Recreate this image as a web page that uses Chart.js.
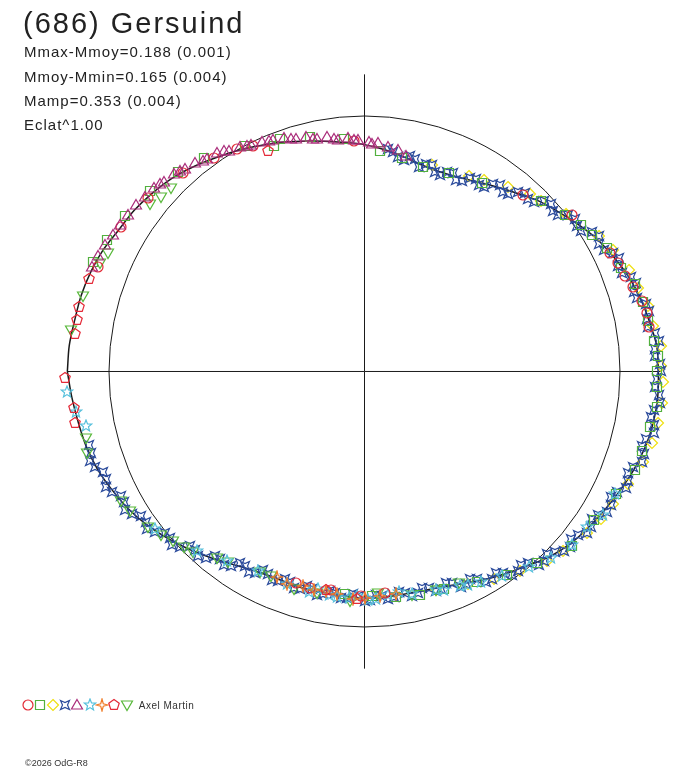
<!DOCTYPE html>
<html>
<head>
<meta charset="utf-8">
<script src="https://cdn.jsdelivr.net/npm/chart.js@4.4.1/dist/chart.umd.min.js"></script>
<style>
  body { margin: 0; background: #fff; width: 688px; height: 768px; overflow: hidden; position: relative;
         font-family: "Liberation Sans", Arial, sans-serif; color: #222; }
  #plot { position: absolute; left: 0; top: 0; }
  .t { position: absolute; white-space: nowrap; }
  #title { left: 23px; top: 9px; font-size: 29px; line-height: 29px; letter-spacing: 2px; }
  .stat { left: 24px; font-size: 15px; line-height: 15px; letter-spacing: 1px; }
  #legend { position: absolute; left: 21px; top: 698px; display: flex; align-items: center; }
  #legend canvas { display: block; margin-right: -1.7px; }
  #observer { font-size: 10px; letter-spacing: 0.5px; margin-left: 7px; color: #333; }
  #copy { left: 25px; top: 759px; font-size: 9px; line-height: 9px; color: #333; }
</style>
</head>
<body>
<canvas id="plot" width="688" height="768"></canvas>
<div class="t" id="title">(686) Gersuind</div>
<div class="t stat" style="top:44px">Mmax-Mmoy=0.188 (0.001)</div>
<div class="t stat" style="top:68.5px">Mmoy-Mmin=0.165 (0.004)</div>
<div class="t stat" style="top:93px">Mamp=0.353 (0.004)</div>
<div class="t stat" style="top:116.5px">Eclat^1.00</div>
<div id="legend"><span id="observer">Axel Martin</span></div>
<div class="t" id="copy">©2026 OdG-R8</div>
<script>
// angles in degrees (0 = right, counter-clockwise), radius in units of the reference circle
const curveAngle = [-180,-175,-170,-165,-160,-155,-150,-145,-140,-135,-130,-125,-120,-115,-110,-105,-100,-95,-90,-85,
  -80,-75,-70,-65,-60,-55,-50,-45,-40,-35,-30,-25,-20,-15,-10,-5,0,5,10,15,20,25,30,35,40,45,50,55,60,65,
  70,75,80,85,90,95,100,105,110,115,120,125,130,135,140,145,150,155,160,165,170,175,180];
const curveRadius = [1.163,1.150,1.138,1.128,1.113,1.092,1.070,1.043,1.012,0.980,0.948,0.918,0.895,0.882,0.880,0.882,0.880,0.882,0.888,0.886,
  0.885,0.888,0.897,0.915,0.940,0.965,0.992,1.025,1.050,1.068,1.085,1.103,1.122,1.138,1.148,1.152,1.150,1.148,1.132,1.117,1.097,1.072,1.045,1.012,0.980,0.950,0.915,0.885,0.860,0.842,
  0.835,0.840,0.855,0.872,0.888,0.900,0.915,0.933,0.955,0.975,0.998,1.020,1.045,1.068,1.085,1.100,1.110,1.128,1.140,1.148,1.152,1.160,1.163];

const redCircleAngle = [158.7,149.4,141.4,132.3,125.3,119.7,116.2,92.7,48,36.9,25.8,23.1,20.2,17.4,14.3,11.6,8.8,-84.6,-91,-98.8,-104,-108];
const redCircleRadius = [1.121,1.109,1.086,1.053,1.022,1.004,0.985,0.905,0.928,1.017,1.068,1.079,1.087,1.102,1.122,1.130,1.128,0.869,0.878,0.867,0.875,0.870];

const greenSquareAngle = [158,153,147,140,133,127,118,112,110,103,95,86,80,74,67,58,44,38,34,31,
  27,22,18,14,10,6,3,0,-3,-7,-11,-16,-20,-26,-33,-40,-48,-55,-62,-70,-76,-82,-88,-95];
const greenSquareRadius = [1.148,1.130,1.118,1.098,1.068,1.045,1.000,0.950,0.968,0.942,0.912,0.865,0.848,0.832,0.845,0.870,0.962,0.998,1.022,1.040,
  1.066,1.082,1.112,1.125,1.128,1.140,1.152,1.145,1.146,1.155,1.140,1.130,1.125,1.095,1.070,1.062,1.010,0.972,0.935,0.905,0.900,0.892,0.880,0.875];

const yellowAngle = [72,62,58,52,47,44,38,30,26,21,17,13,9,5,1,-2,-6,-10,-14,-18,-23,-28,-32,-36,-42,-46,-52,-58,-64,-72];
const yellowRadius = [0.850,0.868,0.885,0.915,0.948,0.962,1.000,1.060,1.082,1.108,1.120,1.140,1.145,1.165,1.162,1.168,1.172,1.166,1.160,1.145,1.122,1.102,1.090,1.075,1.048,1.030,0.990,0.958,0.925,0.900];

const blueAngle = [84,81,78,75,72,69,66,63,60,57,54,51,48,45,42,39,36,33,30,27,24,21,18,15,12,9,6,3,0,-3,
  -6,-9,-12,-15,-18,-21,-24,-27,-30,-33,-36,-39,-42,-45,-48,-51,-54,-57,-60,-63,-66,-69,-72,-75,-78,-81,-84,-87,-90,-93,
  -96,-99,-102,-105,-108,-111,-114,-117,-120,-123,-126,-129,-132,-135,-138,-141,-144,-147,-150,-153,-156,-159,-162,-165,
  82.5,79.5,76.5,73.5,70.5,67.5,64.5,61.5,58.5,55.5,52.5,49.5,46.5,43.5,40.5,37.5,34.5,31.5,28.5,25.5,22.5,19.5,16.5,13.5,10.5,7.5,4.5,1.5,
  -1.5,-4.5,-7.5,-10.5,-13.5,-16.5,-19.5,-22.5,-25.5,-28.5,-31.5,-34.5,-37.5,-40.5,-43.5,-46.5,-49.5,-52.5,-55.5,-58.5,-61.5,-64.5,-67.5,-70.5,
  -73.5,-76.5,-79.5,-82.5,-85.5,-88.5,-91.5,-94.5,-97.5,-100.5,-103.5,-106.5,-109.5,-112.5,-115.5,-118.5,-121.5,-124.5,-127.5,-130.5,-133.5,-136.5,
  -139.5,-142.5,-145.5,-148.5,-151.5,-154.5,-157.5,-160.5,-163.5];
const blueRadius = [0.875,0.850,0.862,0.828,0.850,0.822,0.852,0.838,0.872,0.860,0.902,0.895,0.940,0.938,0.980,0.975,1.018,1.012,1.058,1.050,
  1.090,1.080,1.118,1.105,1.138,1.122,1.158,1.138,1.162,1.140,1.164,1.136,1.158,1.126,1.142,1.106,1.120,1.084,1.098,1.062,
  1.078,1.040,1.052,1.012,1.018,0.974,0.983,0.942,0.953,0.910,0.924,0.887,0.905,0.876,0.898,0.873,0.897,0.876,0.899,0.872,
  0.893,0.868,0.893,0.870,0.893,0.868,0.893,0.874,0.907,0.894,0.937,0.930,0.974,0.968,1.012,1.006,1.050,1.042,1.083,1.071,
  1.108,1.098,1.131,1.116,
  0.868,0.842,0.855,0.845,0.830,0.845,0.832,0.862,0.858,0.890,0.888,0.925,0.930,0.968,0.970,1.004,1.008,1.046,1.044,1.078,1.076,1.108,1.102,1.132,1.124,1.148,1.142,1.156,
  1.145,1.158,1.143,1.154,1.133,1.140,1.116,1.118,1.094,1.097,1.074,1.076,1.052,1.056,1.028,1.022,0.988,0.984,0.955,0.954,0.924,0.922,0.898,0.902,
  0.884,0.893,0.880,0.890,0.881,0.893,0.880,0.888,0.876,0.886,0.876,0.887,0.875,0.886,0.878,0.896,0.892,0.922,0.926,0.958,0.963,0.996,
  1.001,1.034,1.039,1.068,1.070,1.097,1.096,1.120,1.118];

const magentaAngle = [79,81.5,84,86.5,89,91.5,94,96.5,99,101.5,104,106.5,109,111.5,114,116.5,119,121.5,124,126.5,129,131.5,134,136.5,139,141.5,144,146.5,149,151.5,154,156.5,159,
  88,92.5,97.5,102.5,107.5,112.5,117.5,122.5,127.5,132.5,137.5];
const magentaRadius = [0.860,0.878,0.882,0.895,0.900,0.905,0.915,0.912,0.928,0.930,0.945,0.948,0.965,0.972,0.985,0.992,1.006,1.012,1.030,1.035,1.052,1.058,1.076,1.080,1.092,1.096,1.106,1.112,1.115,1.122,1.130,1.138,1.142,
  0.892,0.908,0.918,0.934,0.955,0.975,0.995,1.022,1.040,1.066,1.088];

const cyanAngle = [-26,-31,-35,-40,-45,-50,-56,-61,-64,-66,-70,-72,-78,-81,-84,-87,-89,-92,-94,-97,-99,-102,-104,-110,-118,-126,-133,-143,-169,-172,-176];
const cyanRadius = [1.092,1.088,1.062,1.058,1.030,1.000,0.965,0.940,0.928,0.918,0.908,0.900,0.892,0.875,0.880,0.893,0.895,0.878,0.890,0.888,0.885,0.872,0.890,0.887,0.885,0.918,0.960,1.025,1.110,1.142,1.166];

const orangeAngle = [-82,-86,-90,-93,-97,-100,-103,-106,-110,-113];
const orangeRadius = [0.878,0.880,0.885,0.892,0.876,0.872,0.878,0.873,0.884,0.872];

const pentagonAngle = [161.5,167.2,169.9,172.7,-178.7,-172.9,-170,113.5,-92,-100];
const pentagonRadius = [1.136,1.145,1.142,1.142,1.172,1.145,1.150,0.943,0.890,0.870];

const greenTriAngle = [165,172,157.7,155.3,141.9,139.5,136.5,-166.5,-163.7,-152.1,-149.3,-144.2,-141.2,-138.6,-135.8,-133.4,-128.2,-125.5,-117.4,-114.7,-108.1,-102,-93.5,-86.6,-66,-72,-78];
const greenTriRadius = [1.140,1.161,1.120,1.107,1.065,1.049,1.046,1.123,1.130,1.080,1.066,1.043,1.024,1.001,0.988,0.975,0.931,0.918,0.886,0.879,0.894,0.888,0.898,0.870,0.905,0.900,0.895];

const AXIS_REACH = 1.163;

function makeMarker(shape, color) {
    const size = 14, c = 7;
    const cv = document.createElement('canvas');
    cv.width = size;
    cv.height = size;
    const g = cv.getContext('2d');
    g.strokeStyle = color;
    g.lineWidth = 1.2;
    g.beginPath();
    const poly = pts => {
        pts.forEach((p, i) => i ? g.lineTo(c + p[0], c + p[1]) : g.moveTo(c + p[0], c + p[1]));
        g.closePath();
    };
    const ring = (n, ro, ri) => {
        const pts = [];
        const steps = ri ? 2 * n : n;
        for (let i = 0; i < steps; i++) {
            const a = -Math.PI / 2 + i * 2 * Math.PI / steps;
            const r = ri && i % 2 ? ri : ro;
            pts.push([r * Math.cos(a), r * Math.sin(a)]);
        }
        poly(pts);
    };
    switch (shape) {
        case 'circle': g.arc(c, c, 5, 0, 2 * Math.PI); break;
        case 'square': poly([[-4.5, -4.5], [4.5, -4.5], [4.5, 4.5], [-4.5, 4.5]]); break;
        case 'diamond': poly([[0, -5.5], [5.5, 0], [0, 5.5], [-5.5, 0]]); break;
        case 'bowtie': poly([[-4.5, -4.5], [0, -2.5], [4.5, -4.5], [2.5, 0], [4.5, 4.5], [0, 2.5], [-4.5, 4.5], [-2.5, 0]]); break;
        case 'triangle': poly([[0, -5.5], [5.5, 4], [-5.5, 4]]); break;
        case 'star5': ring(5, 6, 2.6); break;
        case 'star4': ring(4, 6, 1.8); break;
        case 'pentagon': ring(5, 5.5, 0); break;
        case 'invtri': poly([[-5.5, -4], [5.5, -4], [0, 5.5]]); break;
    }
    g.stroke();
    return cv;
}

function polar(angles, radii) {
    return angles.map((a, i) => ({
        x: radii[i] * Math.cos(a * Math.PI / 180),
        y: radii[i] * Math.sin(a * Math.PI / 180)
    }));
}

const series = [
    { name: 'circle', color: '#e22a36', angles: redCircleAngle, radii: redCircleRadius, order: 3 },
    { name: 'square', color: '#52b03e', angles: greenSquareAngle, radii: greenSquareRadius, order: 4 },
    { name: 'diamond', color: '#efe010', angles: yellowAngle, radii: yellowRadius, order: 6 },
    { name: 'bowtie', color: '#2c4c9c', angles: blueAngle, radii: blueRadius, order: 5 },
    { name: 'triangle', color: '#aa2c7a', angles: magentaAngle, radii: magentaRadius, order: 2 },
    { name: 'star5', color: '#56c0dc', angles: cyanAngle, radii: cyanRadius, order: 3 },
    { name: 'star4', color: '#f07c28', angles: orangeAngle, radii: orangeRadius, order: 2 },
    { name: 'pentagon', color: '#e42a38', angles: pentagonAngle, radii: pentagonRadius, order: 1 },
    { name: 'invtri', color: '#58b83a', angles: greenTriAngle, radii: greenTriRadius, order: 4 }
];

// legend row
const legend = document.getElementById('legend');
const observer = document.getElementById('observer');
series.forEach(s => legend.insertBefore(makeMarker(s.name, s.color), observer));

const frame = {
    id: 'frame',
    beforeDatasetsDraw(chart) {
        const { ctx, scales: { x, y } } = chart;
        const cx = x.getPixelForValue(0);
        const cy = y.getPixelForValue(0);
        const rx = x.getPixelForValue(1) - cx;
        const ry = cy - y.getPixelForValue(1);
        ctx.save();
        ctx.strokeStyle = '#1a1a1a';
        ctx.lineWidth = 1;
        ctx.beginPath();
        ctx.ellipse(cx, cy, rx, ry, 0, 0, 2 * Math.PI);
        ctx.stroke();
        ctx.beginPath();
        ctx.moveTo(x.getPixelForValue(-AXIS_REACH), cy);
        ctx.lineTo(x.getPixelForValue(AXIS_REACH), cy);
        ctx.moveTo(cx, y.getPixelForValue(AXIS_REACH));
        ctx.lineTo(cx, y.getPixelForValue(-AXIS_REACH));
        ctx.stroke();
        ctx.restore();
        // keep the symbols sharp like the original bitmap
        ctx.imageSmoothingEnabled = false;
    }
};

const datasets = series.map(s => ({
    data: polar(s.angles, s.radii),
    pointStyle: makeMarker(s.name, s.color),
    pointRadius: 6,
    order: s.order
}));
datasets.push({
    data: polar(curveAngle, curveRadius),
    showLine: true,
    borderColor: '#1a1a1a',
    borderWidth: 1.5,
    tension: 0.3,
    pointRadius: 0,
    order: 10
});

new Chart(document.getElementById('plot'), {
    type: 'scatter',
    data: { datasets },
    options: {
        responsive: false,
        animation: false,
        layout: { padding: 0, autoPadding: false },
        scales: {
            x: { type: 'linear', min: -1.42661, max: 1.26614, display: false },
            y: { type: 'linear', min: -1.55186, max: 1.45401, display: false }
        },
        plugins: {
            legend: { display: false },
            tooltip: { enabled: false }
        }
    },
    plugins: [frame]
});
</script>
</body>
</html>
